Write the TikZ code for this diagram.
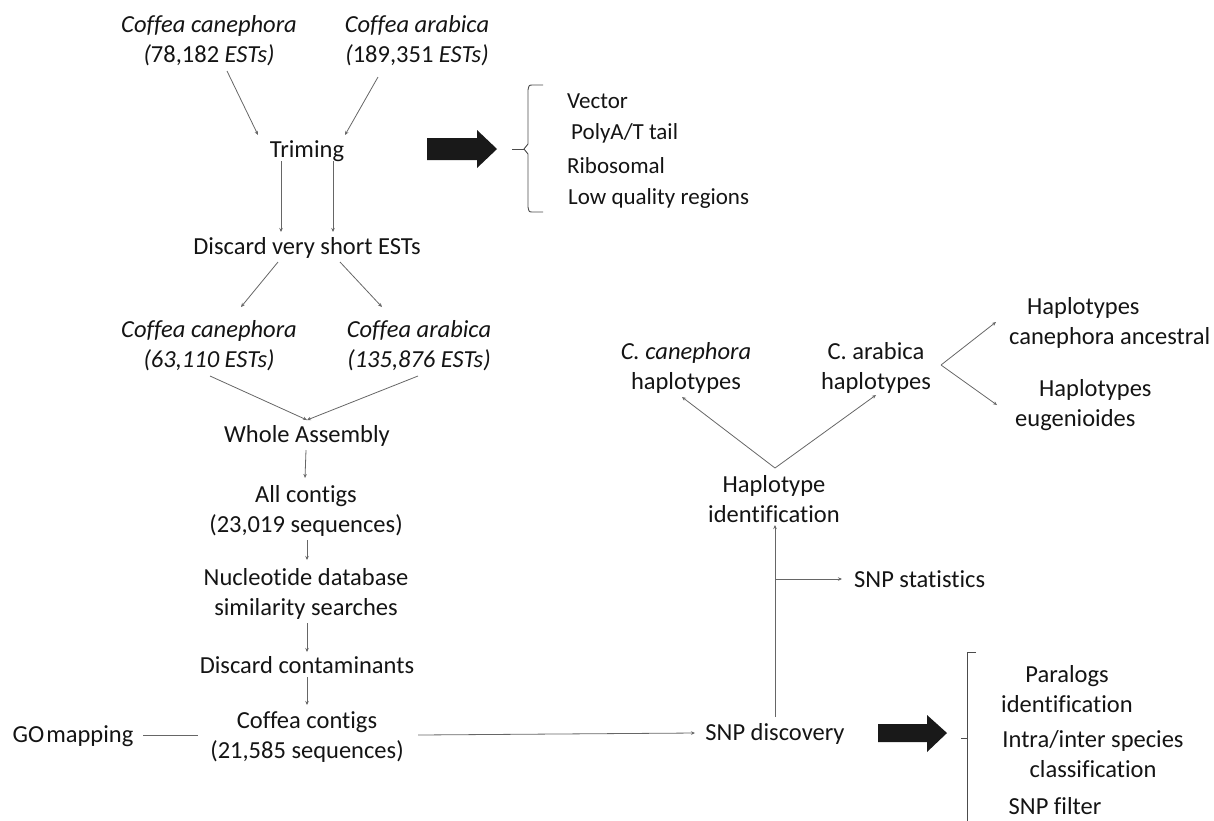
\documentclass[tikz,border=0pt]{standalone}
\usepackage{fontspec}
\setmainfont{Carlito}[Ligatures=NoCommon]
\usetikzlibrary{arrows.meta,calc}
\begin{document}
\begin{tikzpicture}[x=1pt,y=-1pt,
  lbl/.style={inner sep=0pt,align=center,font=\fontsize{24.5}{30}\selectfont,text=black!92},
  lst/.style={inner sep=0pt,anchor=west,font=\fontsize{23}{28}\selectfont,text=black!92},
  arr/.style={draw=black!60,line width=0.8pt,-{Stealth[length=4pt,width=3.5pt]}},
  ln/.style={draw=black!60,line width=0.8pt},
  big/.style={fill=black!90},
  brk/.style={draw=black!70,line width=0.9pt}]
\useasboundingbox (0,0) rectangle (1214,820);

% ---- nodes ----
\node[lbl] (cc1) at (209,41) {\textit{Coffea canephora}\\\textit{(}78,182 \textit{ESTs)}};
\node[lbl] (ca1) at (417,41) {\textit{Coffea arabica}\\\textit{(}189,351 \textit{ESTs)}};
\node[lbl] (trim) at (307,151) {Triming};
\node[lbl] (disc) at (307,248) {Discard very short ESTs};
\node[lbl] (cc2) at (209,346) {\textit{Coffea canephora}\\\textit{(63,110 ESTs)}};
\node[lbl] (ca2) at (419,346) {\textit{Coffea arabica}\\\textit{(135,876 ESTs)}};
\node[lbl] (whole) at (307,436) {Whole Assembly};
\node[lbl] (allc) at (306,511) {All contigs\\(23,019 sequences)};
\node[lbl] (nuc) at (306,594) {Nucleotide database\\similarity searches};
\node[lbl] (dcont) at (307,665) {Discard contaminants};
\node[lbl] (coffc) at (307,737) {Coffea contigs\\(21,585 sequences)};
\node[lbl] (gomap) at (73,736) {GO\hspace{2pt}mapping};
\node[lbl] (snpd) at (775,734) {SNP discovery};
\node[lbl,anchor=west] (snpst) at (854,579) {SNP statistics};
\node[lbl] (hapid) at (774,499) {Haplotype\\identification};
\node[lbl] (ccanh) at (686,368) {\textit{C. canephora}\\haplotypes};
\node[lbl] (carh) at (876,368) {C. arabica\\haplotypes};
\node[lbl,align=left,anchor=west] (hca) at (1009,323) {\hspace*{18pt}Haplotypes\\canephora ancestral};
\node[lbl,align=left,anchor=west] (heu) at (1015,405) {\hspace*{24pt}Haplotypes\\eugenioides};

\node[lst] (vec) at (567,101) {Vector};
\node[lst] (poly) at (571,133) {PolyA/T tail};
\node[lst] (ribo) at (567,166) {Ribosomal};
\node[lst] (lowq) at (568,198) {Low quality regions};

\node[lbl] (par) at (1067,689) {Paralogs\\identification};
\node[lbl] (intra) at (1093,754) {Intra/inter species\\classification};
\node[lbl] (filt) at (1055,806) {SNP filter};

% ---- connectors ----
\draw[arr] ($(cc1.center)+(18,30)$) -- ($(trim.center)+(-49,-16)$);
\draw[arr] ($(ca1.center)+(-39,36)$) -- ($(trim.center)+(38,-16)$);
\draw[arr] ($(trim.center)+(-26,10)$) -- ($(disc.center)+(-26,-16)$);
\draw[arr] ($(trim.center)+(26,10)$) -- ($(disc.center)+(26,-16)$);
\draw[arr] ($(disc.center)+(-29,14)$) -- ($(cc2.center)+(32,-39)$);
\draw[arr] ($(disc.center)+(33,14)$) -- ($(ca2.center)+(-37,-39)$);
\draw[arr] ($(cc2.center)+(1,30)$) -- ($(whole.center)+(0,-16)$);
\draw[arr] ($(ca2.center)+(-1,30)$) -- ($(whole.center)+(0,-16)$);
\draw[arr] ($(whole.center)+(-1,14)$) -- ($(allc.center)+(-1,-33)$);
\draw[arr] ($(allc.center)+(1,29)$) -- ($(nuc.center)+(1,-34)$);
\draw[arr] ($(nuc.center)+(1,29)$) -- ($(dcont.center)+(0,-13)$);
\draw[arr] ($(dcont.center)+(0,12)$) -- ($(coffc.center)+(0,-32)$);
\draw[ln] ($(gomap.center)+(70,-1)$) -- ($(coffc.center)+(-109,-2)$);
\draw[arr] ($(coffc.center)+(111,-2)$) -- ($(snpd.center)+(-80,-1)$);
\draw[arr] ($(snpd.center)+(0,-17)$) -- ($(hapid.center)+(1,26)$);
\coordinate (br) at ($(snpd.center)+(0,-155)$);
\draw[arr,shorten >=12pt] (br) -- (snpst.west);
\coordinate (apex1) at ($(hapid.center)+(1,-31)$);
\draw[arr] (apex1) -- ($(ccanh.center)+(-4,29)$);
\draw[arr] (apex1) -- ($(carh.center)+(0,27)$);
\coordinate (apex2) at ($(carh.center)+(65,-3)$);
\draw[arr] (apex2) -- ($(hca.west)+(-13,-1)$);
\draw[arr] (apex2) -- ($(heu.west)+(-18,0)$);

% ---- big arrows ----
\fill[big] (427,138) -- (477,138) -- (477,130) -- (497,149) -- (477,168) -- (477,160) -- (427,160) -- cycle;
\fill[big] (878,724) -- (927,724) -- (927,715) -- (947,733) -- (927,752) -- (927,742) -- (878,742) -- cycle;

% ---- brackets ----
\draw[brk] (512,149) -- (524,149);
\draw[brk] (543,85) -- (533,85) .. controls (529,85) .. (528,90) -- (528,144) -- (524,149) -- (528,154) -- (528,207) .. controls (529,212) .. (533,212) -- (543,212);
\draw[brk] (961,738) -- (967,738);
\draw[brk] (976,652) -- (967,652) -- (967,822);
\end{tikzpicture}
\end{document}
